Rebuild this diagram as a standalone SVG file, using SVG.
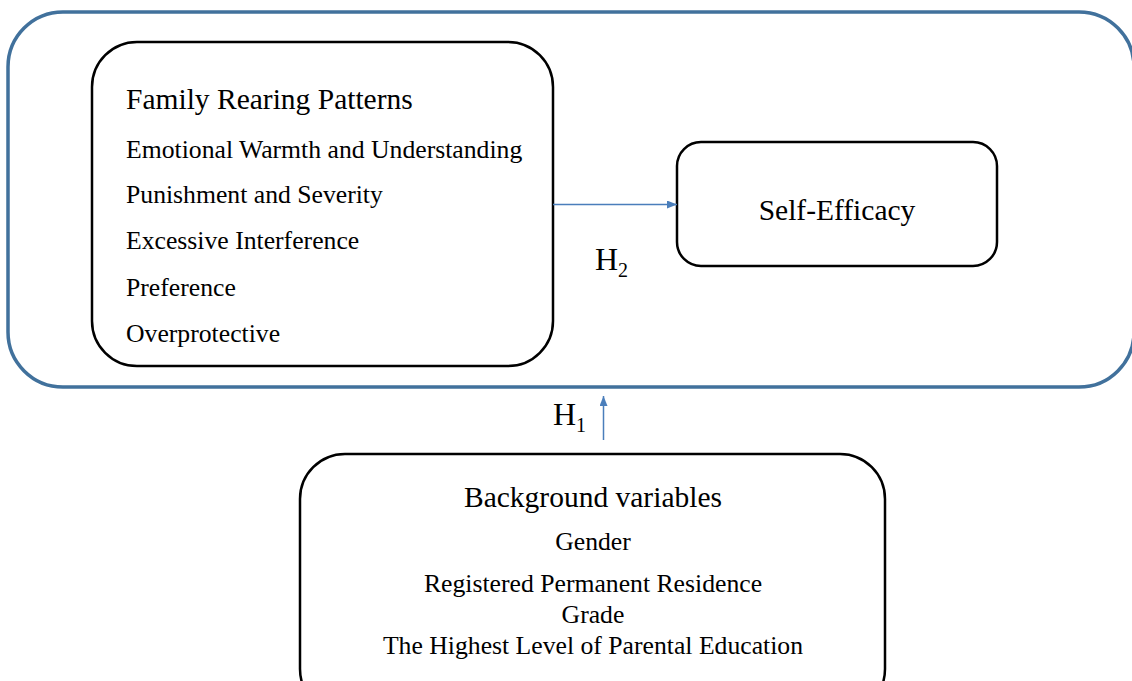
<svg xmlns="http://www.w3.org/2000/svg" width="1132" height="681" viewBox="0 0 1132 681">
  <style>
    .box { fill: #ffffff; stroke: #000000; stroke-width: 2.5; }
    .frame { fill: none; stroke: #41719C; stroke-width: 3.5; }
    .link { fill: none; stroke: #4A7EBB; stroke-width: 1.5; }
    text { font-family: "Liberation Serif", "Times New Roman", serif; fill: #000000; }
    .title { font-size: 29.5px; }
    .item { font-size: 25.7px; }
    .hyp { font-size: 32px; }
    .sub { font-size: 20px; }
    .mid { text-anchor: middle; }
  </style>
  <defs>
    <marker id="arrow" viewBox="0 0 10 8" refX="10" refY="4" markerWidth="10" markerHeight="8" markerUnits="userSpaceOnUse" orient="auto">
      <path d="M0,0 L10,4 L0,8 Z" fill="#4A7EBB"/>
    </marker>
  </defs>

  <rect width="1132" height="681" fill="#ffffff"/>

  <!-- outer frame grouping rearing patterns and self-efficacy -->
  <g id="frame">
    <rect class="frame" x="8" y="12" width="1126" height="375" rx="55" ry="55"/>
  </g>

  <g id="family-rearing">
    <rect class="box" x="92" y="42" width="461" height="324" rx="45" ry="45"/>
    <text class="title" x="126" y="109">Family Rearing Patterns</text>
    <text class="item" x="126" y="158">Emotional Warmth and Understanding</text>
    <text class="item" x="126" y="203">Punishment and Severity</text>
    <text class="item" x="126" y="249">Excessive Interference</text>
    <text class="item" x="126" y="296">Preference</text>
    <text class="item" x="126" y="342">Overprotective</text>
  </g>

  <g id="self-efficacy">
    <rect class="box" x="677" y="142" width="320" height="124" rx="24" ry="24"/>
    <text class="title mid" x="837" y="220">Self-Efficacy</text>
  </g>

  <g id="background">
    <rect class="box" x="300" y="454" width="585" height="260" rx="45" ry="45"/>
    <text class="title mid" x="593" y="507">Background variables</text>
    <text class="item mid" x="593" y="550">Gender</text>
    <text class="item mid" x="593" y="592">Registered Permanent Residence</text>
    <text class="item mid" x="593" y="623">Grade</text>
    <text class="item mid" x="593" y="654">The Highest Level of Parental Education</text>
  </g>

  <g id="connectors">
    <line class="link" x1="553" y1="204.5" x2="677" y2="204.5" marker-end="url(#arrow)"/>
    <line class="link" x1="603.5" y1="440" x2="603.5" y2="396" marker-end="url(#arrow)"/>
    <text class="hyp" x="595" y="270">H<tspan class="sub" dy="7">2</tspan></text>
    <text class="hyp" x="553" y="425">H<tspan class="sub" dy="7">1</tspan></text>
  </g>
</svg>
